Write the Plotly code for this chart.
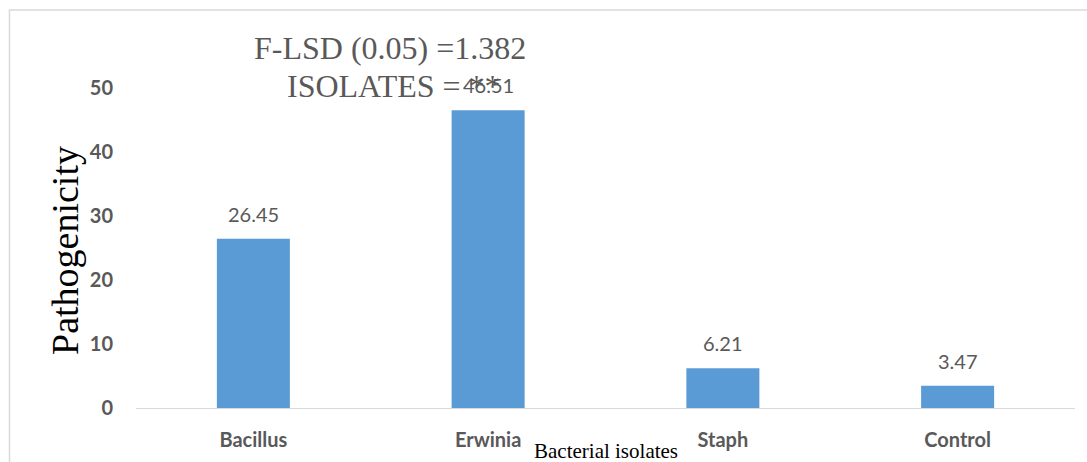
import plotly.graph_objects as go

# Pathogenicity of bacterial isolates
isolates = ["Bacillus", "Erwinia", "Staph", "Control"]
pathogenicity = [26.45, 46.51, 6.21, 3.47]
y_ticks = [0, 10, 20, 30, 40, 50]

W, H = 1087, 462
L, R, T, B = 136, 12, 88, 54
pw, ph = W - L - R, H - T - B

def px(x):
    return (x - L) / pw

def py(y):
    return (H - B - y) / ph

GREY = "#595959"

fig = go.Figure(
    go.Bar(
        x=isolates,
        y=pathogenicity,
        width=0.311,
        marker=dict(color="#5b9bd5", line=dict(width=0)),
        hoverinfo="x+y",
    )
)

# value labels above each bar
value_labels = [
    dict(
        x=name, y=val, xref="x", yref="y", text=f"{val:.2f}",
        showarrow=False, xanchor="center", yanchor="middle", yshift=25,
        font=dict(family="Lato", size=20, color=GREY),
    )
    for name, val in zip(isolates, pathogenicity)
]

text_notes = [
    dict(
        text="F-LSD (0.05) =1.382", xref="paper", yref="paper",
        x=px(390), y=py(48), xanchor="center", yanchor="middle", showarrow=False,
        font=dict(family="Liberation Serif", size=32, color=GREY),
    ),
    dict(
        text="ISOLATES = **", xref="paper", yref="paper",
        x=px(394), y=py(86), xanchor="center", yanchor="middle", showarrow=False,
        font=dict(family="Liberation Serif", size=32, color=GREY),
    ),
    dict(
        text="Pathogenicity", xref="paper", yref="paper",
        x=px(65), y=py(251), xanchor="center", yanchor="middle",
        showarrow=False, textangle=-90,
        font=dict(family="Liberation Serif", size=38, color="black"),
    ),
    dict(
        text="Bacterial isolates", xref="paper", yref="paper",
        x=px(606), y=py(451), xanchor="center", yanchor="middle", showarrow=False,
        font=dict(family="Liberation Serif", size=21, color="black"),
    ),
]

fig.update_layout(
    width=W,
    height=H,
    margin=dict(l=L, r=R, t=T, b=B, autoexpand=False),
    paper_bgcolor="white",
    plot_bgcolor="white",
    showlegend=False,
    xaxis=dict(
        automargin=False,
        showline=True,
        linecolor="#d9d9d9",
        linewidth=1,
        showgrid=False,
        ticks="",
        ticklabelstandoff=14,
        tickfont=dict(family="Lato", size=20, color=GREY, weight="bold"),
    ),
    yaxis=dict(
        automargin=False,
        range=[0, 50],
        tickvals=y_ticks,
        showgrid=False,
        zeroline=False,
        showline=False,
        ticks="",
        ticklabelstandoff=22,
        tickfont=dict(family="Lato", size=20, color=GREY, weight="bold"),
    ),
    shapes=[
        dict(
            type="rect", xref="paper", yref="paper",
            x0=px(9.5), x1=px(1100), y0=py(475), y1=py(10),
            line=dict(color="#d9d9d9", width=1.5), layer="below",
        )
    ],
    annotations=value_labels + text_notes,
)

fig.write_html("out.html")
